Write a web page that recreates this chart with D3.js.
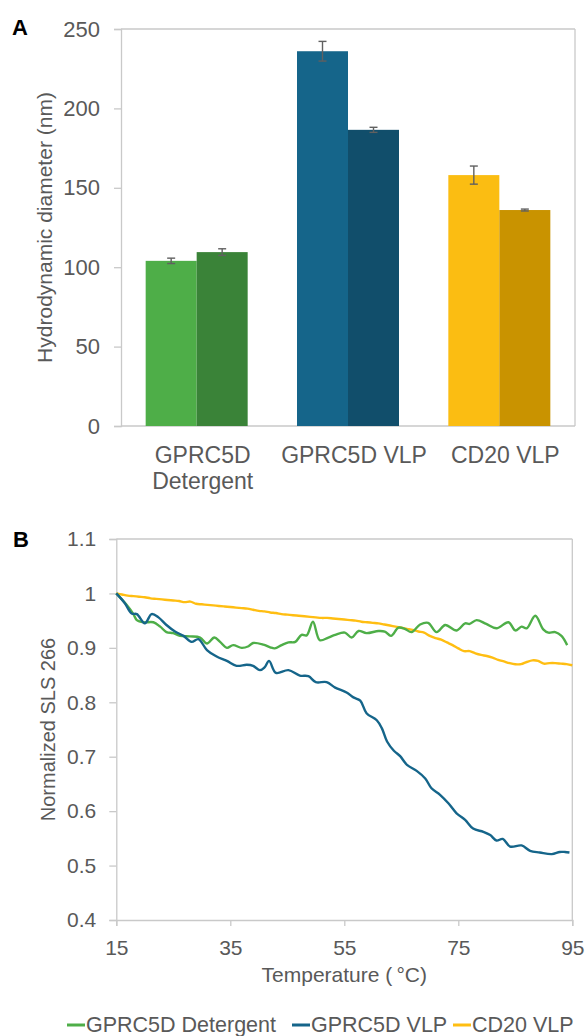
<!DOCTYPE html>
<html>
<head>
<meta charset="utf-8">
<script src="https://cdn.jsdelivr.net/npm/d3@7"></script>
<style>
  html, body { margin: 0; padding: 0; background: #fff; }
  svg { display: block; font-family: "Liberation Sans", Arial, sans-serif; }
</style>
</head>
<body>
<svg id="chart" width="585" height="1036"></svg>
<script>
// ---------- Panel A data ----------
const categories = ["GPRC5D Detergent", "GPRC5D VLP", "CD20 VLP"];
const categoryLabels = [["GPRC5D", "Detergent"], ["GPRC5D VLP"], ["CD20 VLP"]];
const barValuesFirst = [104, 236, 158];
const barValuesSecond = [109.5, 186.5, 136];
const barErrFirst = [1.7, 6.2, 5.7];
const barErrSecond = [2.1, 1.6, 0.6];
const barColorsFirst = ["#4EAE48", "#15658A", "#FBBD12"];
const barColorsSecond = ["#3A8338", "#114E6B", "#C99300"];
const yTicksA = [0, 50, 100, 150, 200, 250];

// ---------- Panel B data ----------
const tempsDetergent = [15, 16.8, 18, 18.6, 19.8, 21.5, 22.7, 23.8, 25, 26.2, 27.9, 29.7, 30.9, 32.2, 33.2, 34.4, 35.5, 37, 38.2, 39, 40.8, 42, 42.8, 44, 45.2, 46.4, 47.5, 48.4, 49.5, 50.7, 52.2, 53.4, 55.1, 56.3, 57.5, 58.9, 61, 62.1, 63.2, 64.5, 65.6, 66.8, 68.3, 69.7, 71.2, 72.7, 74.7, 76.2, 77, 78.2, 79.9, 81.7, 83.8, 85, 86.1, 87, 88.5, 89.9, 90.8, 92, 93.1, 94.1];
const slsDetergent = [1.000, 0.979, 0.962, 0.951, 0.947, 0.947, 0.939, 0.929, 0.927, 0.922, 0.921, 0.919, 0.908, 0.919, 0.911, 0.900, 0.905, 0.900, 0.903, 0.909, 0.906, 0.901, 0.899, 0.905, 0.910, 0.911, 0.924, 0.923, 0.948, 0.914, 0.919, 0.924, 0.928, 0.919, 0.931, 0.927, 0.931, 0.930, 0.922, 0.937, 0.935, 0.929, 0.943, 0.946, 0.929, 0.942, 0.932, 0.945, 0.944, 0.951, 0.944, 0.936, 0.947, 0.932, 0.939, 0.936, 0.959, 0.934, 0.928, 0.929, 0.922, 0.905];

const tempsVLP = [15, 16.5, 17.7, 18.6, 20, 21.2, 22.4, 23.8, 25.3, 26.8, 28.2, 29.4, 30.9, 32.6, 34.4, 36.1, 37.9, 39, 40.2, 41, 41.8, 43, 45.2, 47.2, 48.7, 50, 51.9, 53.4, 55.4, 56.6, 57.8, 58.9, 60.7, 61.6, 62.5, 63.7, 64.8, 66, 67.7, 69.2, 70.3, 71.8, 73.3, 74.7, 76.2, 77.6, 79.4, 80.6, 81.7, 82.8, 84.1, 86.1, 87.6, 89.3, 91.4, 92.8, 93.7, 94.5];
const slsVLP = [1.000, 0.982, 0.963, 0.962, 0.945, 0.962, 0.956, 0.942, 0.930, 0.922, 0.911, 0.916, 0.896, 0.884, 0.876, 0.867, 0.869, 0.867, 0.859, 0.864, 0.876, 0.854, 0.859, 0.849, 0.848, 0.837, 0.837, 0.827, 0.818, 0.809, 0.803, 0.780, 0.767, 0.752, 0.728, 0.711, 0.701, 0.685, 0.674, 0.660, 0.642, 0.630, 0.614, 0.596, 0.584, 0.568, 0.562, 0.556, 0.546, 0.549, 0.535, 0.537, 0.527, 0.524, 0.521, 0.525, 0.525, 0.524];

const tempsCD20 = [15, 16, 17, 18, 19, 20, 21, 22, 23, 24, 25, 26, 27, 28, 29, 30, 31, 32, 33, 34, 35, 36, 37, 38, 39, 40, 41, 42, 43, 44, 45, 46, 47, 48, 49, 50, 51, 52, 53, 54, 55, 56, 57, 58, 59, 60, 61, 62, 63, 64, 65, 66, 67, 68, 69, 70, 71, 72, 73, 74, 75, 76, 77, 78, 79, 80, 81, 82, 83, 84, 85, 86, 87, 88, 89, 90, 91, 92, 93, 94, 95];
const slsCD20 = [1.000, 0.998, 0.996, 0.995, 0.994, 0.993, 0.991, 0.990, 0.989, 0.988, 0.987, 0.986, 0.984, 0.985, 0.981, 0.980, 0.979, 0.978, 0.977, 0.976, 0.975, 0.974, 0.973, 0.972, 0.970, 0.968, 0.967, 0.965, 0.964, 0.962, 0.961, 0.960, 0.959, 0.958, 0.957, 0.956, 0.955, 0.955, 0.954, 0.953, 0.952, 0.951, 0.950, 0.948, 0.947, 0.946, 0.945, 0.943, 0.941, 0.939, 0.937, 0.935, 0.933, 0.930, 0.928, 0.922, 0.918, 0.915, 0.910, 0.905, 0.899, 0.894, 0.894, 0.890, 0.887, 0.885, 0.882, 0.878, 0.875, 0.872, 0.870, 0.870, 0.874, 0.877, 0.876, 0.871, 0.872, 0.872, 0.871, 0.870, 0.868];

const seriesNames = ["GPRC5D Detergent", "GPRC5D VLP", "CD20 VLP"];
const seriesColors = ["#4EAE48", "#15658A", "#FFBE12"];
const xTicksB = [15, 35, 55, 75, 95];
const yTicksB = [0.4, 0.5, 0.6, 0.7, 0.8, 0.9, 1.0, 1.1];
const yTickLabelsB = ["0.4", "0.5", "0.6", "0.7", "0.8", "0.9", "1", "1.1"];

const textColor = "#595959";
const axisColor = "#C9C9C9";

const svg = d3.select("#chart");

// ================= Panel A =================
const A = { left: 121, right: 575, top: 29, bottom: 426 };
const yA = d3.scaleLinear().domain([0, 250]).range([A.bottom, A.top]);
const xA = d3.scaleBand().domain(categories).range([A.left, A.right]).padding(0);
const barW = 51;

const gA = svg.append("g");

gA.append("line").attr("x1", A.left).attr("x2", A.right).attr("y1", A.top).attr("y2", A.top)
  .attr("stroke", axisColor).attr("stroke-width", 1.3);
gA.append("line").attr("x1", A.right).attr("x2", A.right).attr("y1", A.top).attr("y2", A.bottom)
  .attr("stroke", axisColor).attr("stroke-width", 1.3);

const yAxisA = d3.axisLeft(yA).tickValues(yTicksA).tickSize(7).tickPadding(14).tickFormat(d3.format("d"));
const gyA = gA.append("g").attr("transform", `translate(${A.left},0)`).call(yAxisA);
gyA.select(".domain").attr("stroke", axisColor).attr("stroke-width", 1.3);
gyA.selectAll(".tick line").attr("stroke", axisColor).attr("stroke-width", 1.3);
gyA.selectAll(".tick text").attr("fill", textColor).attr("font-size", 22)
  .attr("font-family", "Liberation Sans, Arial, sans-serif");

gA.append("line").attr("x1", A.left).attr("x2", A.right).attr("y1", A.bottom).attr("y2", A.bottom)
  .attr("stroke", axisColor).attr("stroke-width", 1.3);

const barData = categories.map((c, i) => [
  { cat: c, idx: 0, v: barValuesFirst[i], e: barErrFirst[i], color: barColorsFirst[i] },
  { cat: c, idx: 1, v: barValuesSecond[i], e: barErrSecond[i], color: barColorsSecond[i] }
]).flat();

const barX = d => xA(d.cat) + xA.bandwidth() / 2 + (d.idx === 0 ? -barW : 0);

gA.selectAll("rect.bar").data(barData).join("rect")
  .attr("class", "bar")
  .attr("x", barX)
  .attr("width", barW)
  .attr("y", d => yA(d.v))
  .attr("height", d => yA(0) - yA(d.v))
  .attr("fill", d => d.color);

const eb = gA.selectAll("g.err").data(barData).join("g").attr("class", "err");
eb.append("line")
  .attr("x1", d => barX(d) + barW / 2).attr("x2", d => barX(d) + barW / 2)
  .attr("y1", d => yA(d.v + d.e)).attr("y2", d => yA(d.v - d.e))
  .attr("stroke", "#606060").attr("stroke-width", 1.4);
eb.append("line")
  .attr("x1", d => barX(d) + barW / 2 - 4).attr("x2", d => barX(d) + barW / 2 + 4)
  .attr("y1", d => yA(d.v + d.e)).attr("y2", d => yA(d.v + d.e))
  .attr("stroke", "#606060").attr("stroke-width", 1.4);
eb.append("line")
  .attr("x1", d => barX(d) + barW / 2 - 4).attr("x2", d => barX(d) + barW / 2 + 4)
  .attr("y1", d => yA(d.v - d.e)).attr("y2", d => yA(d.v - d.e))
  .attr("stroke", "#606060").attr("stroke-width", 1.4);

categories.forEach((c, i) => {
  const cx = xA(c) + xA.bandwidth() / 2 + 6;
  const t = gA.append("text")
    .attr("x", cx)
    .attr("y", 463)
    .attr("text-anchor", "middle")
    .attr("fill", textColor)
    .attr("font-size", 23);
  categoryLabels[i].forEach((line, j) => {
    t.append("tspan").attr("x", cx).attr("dy", j === 0 ? 0 : 26).text(line);
  });
});

gA.append("text")
  .attr("transform", `translate(52,${(A.top + A.bottom) / 2}) rotate(-90)`)
  .attr("text-anchor", "middle")
  .attr("fill", textColor)
  .attr("font-size", 21)
  .text("Hydrodynamic diameter (nm)");

gA.append("text").attr("x", 12).attr("y", 35).attr("font-size", 22).attr("font-weight", "bold")
  .attr("fill", "#000").text("A");

// ================= Panel B =================
const B = { left: 116.3, right: 572.3, top: 539, bottom: 920 };
const xB = d3.scaleLinear().domain([15, 95]).range([B.left, B.right]);
const yB = d3.scaleLinear().domain([0.4, 1.1]).range([B.bottom, B.top]);

const gB = svg.append("g");

gB.append("line").attr("x1", B.left).attr("x2", B.right).attr("y1", B.top).attr("y2", B.top)
  .attr("stroke", axisColor).attr("stroke-width", 1.3);
gB.append("line").attr("x1", B.right).attr("x2", B.right).attr("y1", B.top).attr("y2", B.bottom)
  .attr("stroke", axisColor).attr("stroke-width", 1.3);

const yAxisB = d3.axisLeft(yB).tickValues(yTicksB).tickSize(7).tickPadding(13)
  .tickFormat((d, i) => yTickLabelsB[i]);
const gyB = gB.append("g").attr("transform", `translate(${B.left},0)`).call(yAxisB);
gyB.select(".domain").attr("stroke", axisColor).attr("stroke-width", 1.3);
gyB.selectAll(".tick line").attr("stroke", axisColor).attr("stroke-width", 1.3);
gyB.selectAll(".tick text").attr("fill", textColor).attr("font-size", 21)
  .attr("font-family", "Liberation Sans, Arial, sans-serif");

const xAxisB = d3.axisBottom(xB).tickValues(xTicksB).tickSize(6).tickPadding(14).tickFormat(d3.format("d"));
const gxB = gB.append("g").attr("transform", `translate(0,${B.bottom})`).call(xAxisB);
gxB.select(".domain").attr("stroke", axisColor).attr("stroke-width", 1.3);
gxB.selectAll(".tick line").attr("stroke", axisColor).attr("stroke-width", 1.3);
gxB.selectAll(".tick text").attr("fill", textColor).attr("font-size", 21)
  .attr("font-family", "Liberation Sans, Arial, sans-serif");

const seriesData = [
  tempsDetergent.map((t, i) => [t, slsDetergent[i]]),
  tempsVLP.map((t, i) => [t, slsVLP[i]]),
  tempsCD20.map((t, i) => [t, slsCD20[i]])
];
const lineGen = d3.line().x(d => xB(d[0])).y(d => yB(d[1])).curve(d3.curveCatmullRom.alpha(0.5));

[2, 0, 1].forEach(k => {
  gB.append("path")
    .attr("d", lineGen(seriesData[k]))
    .attr("fill", "none")
    .attr("stroke", seriesColors[k])
    .attr("stroke-width", 2.4)
    .attr("stroke-linejoin", "round");
});

gB.append("text")
  .attr("x", (B.left + B.right) / 2).attr("y", 982)
  .attr("text-anchor", "middle").attr("fill", textColor).attr("font-size", 21)
  .text("Temperature (\u2009°C)");

gB.append("text")
  .attr("transform", `translate(55,${(B.top + B.bottom) / 2}) rotate(-90)`)
  .attr("text-anchor", "middle").attr("fill", textColor).attr("font-size", 20)
  .text("Normalized SLS 266");

gB.append("text").attr("x", 13).attr("y", 547).attr("font-size", 22).attr("font-weight", "bold")
  .attr("fill", "#000").text("B");

const legendX = [67, 292, 453];
const lg = gB.selectAll("g.leg").data(seriesNames).join("g").attr("class", "leg")
  .attr("transform", (d, i) => `translate(${legendX[i]},0)`);
lg.append("line").attr("x1", 0).attr("x2", 18).attr("y1", 1025).attr("y2", 1025)
  .attr("stroke", (d, i) => seriesColors[i]).attr("stroke-width", 3);
lg.append("text").attr("x", 19).attr("y", 1032).attr("fill", textColor).attr("font-size", 21.5)
  .text(d => d);
</script>
</body>
</html>
